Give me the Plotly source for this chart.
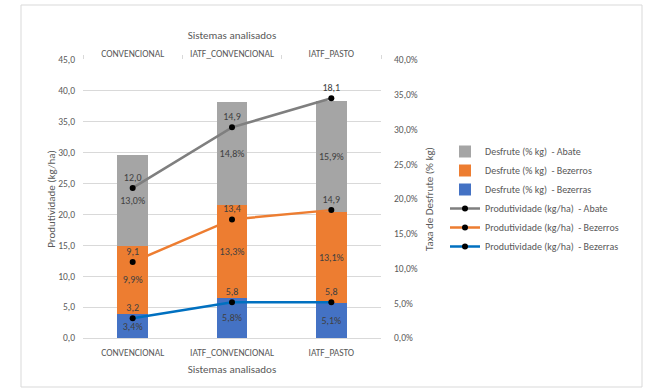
import plotly.graph_objects as go

# Sistemas analisados
sistemas = ["CONVENCIONAL", "IATF_CONVENCIONAL", "IATF_PASTO"]

# Taxa de desfrute (% kg) por categoria animal
desfrute_bezerras = [0.034, 0.058, 0.051]
desfrute_bezerros = [0.099, 0.133, 0.131]
desfrute_abate = [0.130, 0.148, 0.159]

# Produtividade (kg/ha) por categoria animal
prod_bezerras = [3.2, 5.8, 5.8]
prod_bezerros = [9.1, 13.4, 14.9]
prod_abate = [12.0, 14.9, 18.1]

FONT = "Carlito, Lato, 'Open Sans', sans-serif"
TXT = "#595959"
LBL = "#404040"

C_GREY, C_ORANGE, C_BLUE = "#A5A5A5", "#ED7D31", "#4472C4"
L_GREY, L_ORANGE, L_BLUE = "#7F7F7F", "#ED7D31", "#0070C0"


def fmt(v):
    return f"{v:.1f}".replace(".", ",")


fig = go.Figure()

bars = [
    ("Desfrute (% kg)  - Bezerras", desfrute_bezerras, C_BLUE, 3),
    ("Desfrute (% kg)  - Bezerros", desfrute_bezerros, C_ORANGE, 2),
    ("Desfrute (% kg)  - Abate", desfrute_abate, C_GREY, 1),
]
for name, vals, col, rank in bars:
    fig.add_trace(go.Bar(
        x=sistemas, y=vals, name=name, marker=dict(color=col, line=dict(width=0)),
        width=0.31, xaxis="x", yaxis="y",
        texttemplate="%{y:.1%}", textposition="inside", insidetextanchor="middle",
        textangle=0, constraintext="none",
        textfont=dict(family=FONT, size=10, color=LBL),
        legendrank=rank,
    ))

lines = [
    ("Produtividade (kg/ha)  - Bezerras", prod_bezerras, L_BLUE, 6),
    ("Produtividade (kg/ha)  - Bezerros", prod_bezerros, L_ORANGE, 5),
    ("Produtividade (kg/ha)  - Abate", prod_abate, L_GREY, 4),
]
for name, vals, col, rank in lines:
    fig.add_trace(go.Scatter(
        x=sistemas, y=vals, name=name, xaxis="x2", yaxis="y2",
        stackgroup="prod", fill="none",
        mode="lines+markers+text",
        line=dict(color=col, width=2.5),
        marker=dict(color="black", size=6),
        text=[fmt(v) for v in vals], textposition="top center",
        textfont=dict(family=FONT, size=10, color=LBL),
        legendrank=rank,
    ))

# plot area in pixels
L, R, T, B = 83, 381, 60, 338
W, H = 649, 390
pw, ph = R - L, B - T


def px_x(x):
    return (x - L) / pw


def px_y(y):
    return (B - y) / ph


fig.update_layout(
    width=W, height=H,
    margin=dict(l=L, r=W - R, t=T, b=H - B, pad=0),
    paper_bgcolor="white", plot_bgcolor="white",
    separators=",.",
    font=dict(family=FONT, size=10, color=TXT),
    barmode="stack", bargap=0.69,
    showlegend=True,
    legend=dict(
        x=px_x(445), y=px_y(137), xanchor="left", yanchor="top",
        traceorder="normal",
        font=dict(family=FONT, size=10, color=TXT),
        bgcolor="rgba(0,0,0,0)", tracegroupgap=0, itemwidth=30,
    ),
    xaxis=dict(
        type="category", categoryorder="array", categoryarray=sistemas,
        range=[-0.5, 2.5], showgrid=False, showline=True, linecolor="#D9D9D9",
        ticks="", tickfont=dict(size=9.5, color=TXT), ticklabelstandoff=6,
        title=dict(text="Sistemas analisados", font=dict(size=11, color=TXT), standoff=6),
        zeroline=False,
    ),
    xaxis2=dict(
        type="category", categoryorder="array", categoryarray=sistemas,
        range=[-0.5, 2.5], overlaying="x", side="top", showgrid=False,
        showline=False, ticks="outside", tickson="boundaries", ticklen=4,
        tickcolor="#D9D9D9", tickfont=dict(size=9.5, color=TXT),
        title=dict(text="Sistemas analisados", font=dict(size=11, color=TXT), standoff=6),
    ),
    yaxis=dict(
        side="right", range=[0, 0.40], dtick=0.05, tickformat=".1%",
        showgrid=False, zeroline=False, showline=False,
        tickfont=dict(size=9.5, color=TXT), ticklabelstandoff=12,
        title=dict(text="Taxa de Desfrute (% kg)", font=dict(size=11, color=TXT), standoff=8),
    ),
    yaxis2=dict(
        side="left", overlaying="y", range=[0, 45], dtick=5, tickformat=".1f",
        showgrid=True, gridcolor="#D9D9D9", gridwidth=1, zeroline=False,
        showline=False, tickfont=dict(size=9.5, color=TXT), ticklabelstandoff=7,
        title=dict(text="Produtividade (kg/ha)", font=dict(size=11, color=TXT), standoff=0),
    ),
    shapes=[dict(
        type="rect", xref="paper", yref="paper",
        x0=px_x(21), x1=px_x(642), y0=px_y(387), y1=px_y(5),
        line=dict(color="#D9D9D9", width=1), fillcolor="rgba(0,0,0,0)", layer="below",
    )],
)

fig.write_html("out.html")
